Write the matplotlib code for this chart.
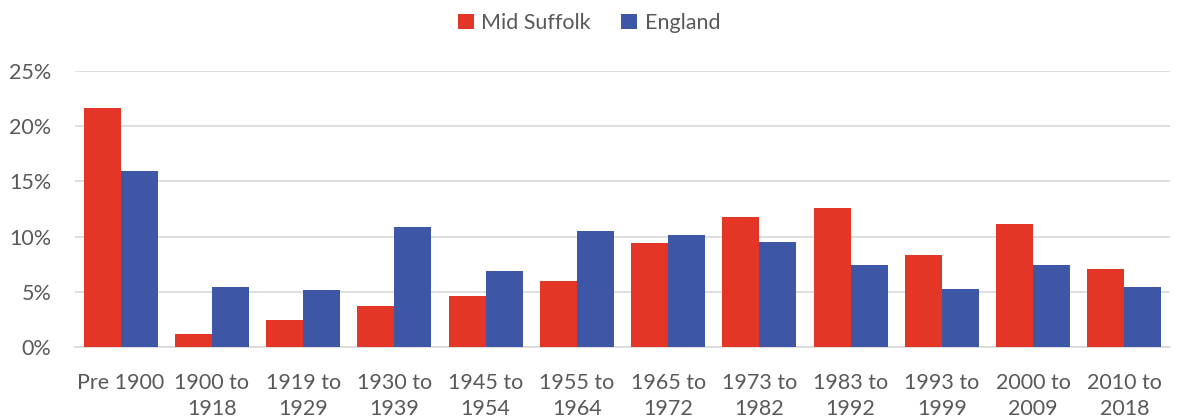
import matplotlib
matplotlib.use("Agg")
import matplotlib.pyplot as plt
import numpy as np
from matplotlib.ticker import PercentFormatter

plt.rcParams['font.family'] = ['Lato', 'DejaVu Sans']

categories = ["Pre 1900", "1900 to\n1918", "1919 to\n1929", "1930 to\n1939", "1945 to\n1954",
              "1955 to\n1964", "1965 to\n1972", "1973 to\n1982", "1983 to\n1992", "1993 to\n1999",
              "2000 to\n2009", "2010 to\n2018"]
mid_suffolk = [21.65, 1.18, 2.45, 3.71, 4.62, 5.98, 9.42, 11.78, 12.59, 8.33, 11.14, 7.07]
england = [15.94, 5.43, 5.16, 10.87, 6.88, 10.5, 10.14, 9.51, 7.43, 5.25, 7.43, 5.43]

red = "#E43627"
blue = "#3D56A5"
grey = "#595959"

fig = plt.figure(figsize=(11.78, 4.19), dpi=100)
ax = fig.add_axes([75 / 1178, 1 - 347 / 419, (1170 - 75) / 1178, (347 - 71) / 419])

x = np.arange(len(categories))
w = 0.405
ax.bar(x - w / 2, mid_suffolk, w, color=red, label="Mid Suffolk", zorder=3)
ax.bar(x + w / 2, england, w, color=blue, label="England", zorder=3)

ax.set_xlim(-0.5, len(categories) - 0.5)
ax.set_ylim(0, 25)
ax.set_yticks([0, 5, 10, 15, 20, 25])
ax.yaxis.set_major_formatter(PercentFormatter(decimals=0))
ax.grid(axis='y', color="#d9d9d9", linewidth=1.2, zorder=0)
ax.set_xticks(x)
ax.set_xticklabels(categories, linespacing=1.35)
for s in ["top", "right", "left"]:
    ax.spines[s].set_visible(False)
ax.spines["bottom"].set_color("#d9d9d9")
ax.spines["bottom"].set_linewidth(1.2)
ax.tick_params(axis='both', length=0, labelsize=15.5, colors=grey)
ax.tick_params(axis='x', pad=19)
ax.tick_params(axis='y', pad=17)

fig.legend(loc="upper center", bbox_to_anchor=(0.5, 1.015), ncol=2, frameon=False,
           fontsize=15.5, labelcolor=grey, handlelength=0.75, handleheight=0.75,
           handletextpad=0.35, columnspacing=1.4)

fig.savefig("out.png", dpi=100)
